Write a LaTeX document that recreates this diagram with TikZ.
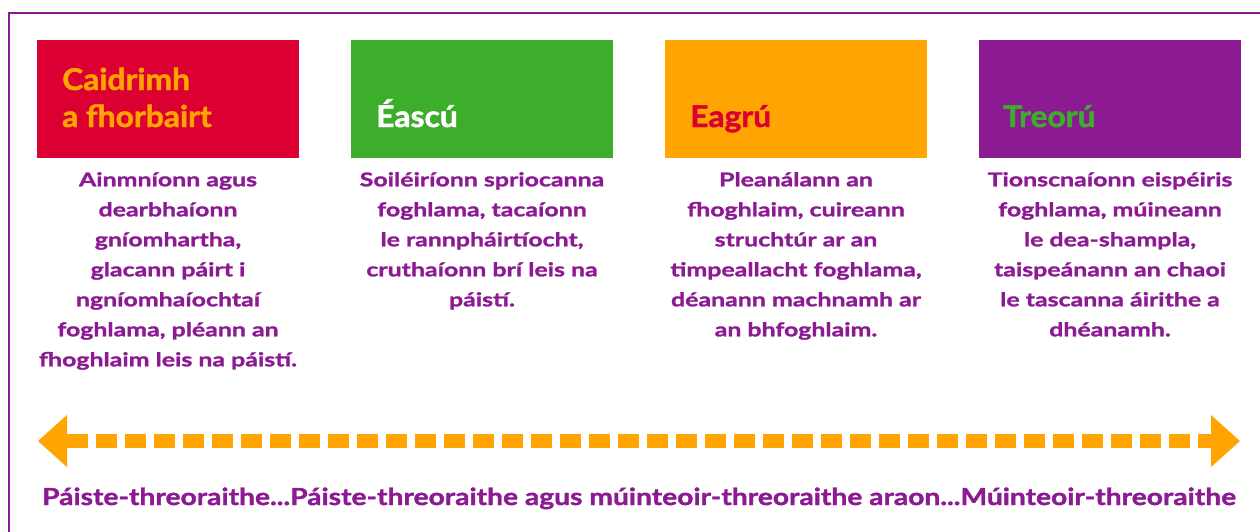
\documentclass[tikz,border=0pt]{standalone}
\usepackage{fontspec}
\setmainfont{Lato}
\newfontfamily\titlefont{Lato}[FakeStretch=1.06, FakeBold=1.5]
\newfontfamily\bodyfont{Lato}[FakeStretch=1.31, FakeBold=1.5]
\newfontfamily\spanfont{Lato}[FakeStretch=1.2, FakeBold=1.5]
\usetikzlibrary{arrows.meta, positioning}
\definecolor{fbred}{HTML}{DC0032}
\definecolor{fbgreen}{HTML}{3DAE2B}
\definecolor{fborange}{HTML}{FFA400}
\definecolor{fbpurple}{HTML}{8B1A93}

\begin{document}
\begin{tikzpicture}[x=1pt, y=-1pt,
	frame/.style={draw=fbpurple, line width=2.5pt},
	stage/.style={minimum width=262pt, minimum height=118pt, inner sep=0pt},
	stagetitle/.style={anchor=base west, inner sep=0pt, align=left, font=\titlefont\fontsize{30}{37}\selectfont\bfseries},
	stagetext/.style={anchor=north, inner sep=0pt, align=center, text=fbpurple, font=\bodyfont\fontsize{19}{30}\selectfont\bfseries},
	span/.style={draw=fborange, line width=14pt, dash pattern=on 21pt off 8pt,
		{Triangle[length=29pt, width=52pt, line width=0pt]}-{Triangle[length=29pt, width=52pt, line width=0pt]}},
	spantext/.style={anchor=base, inner sep=0pt, text=fbpurple, font=\spanfont\fontsize{23.5}{28}\selectfont\bfseries}]
				\useasboundingbox (0,0) rectangle (1260,531);
				\clip (0,0) rectangle (1260,531);
				\draw[frame] (9,13) rectangle (1275,550);

				\node[stage, fill=fbred] (caidrimh) at (168,99) {};
				\node[stagetitle, text=fborange] (caidrimhtitle) at (62,127) {Caidrimh\\a fhorbairt};
				\node[stagetext] (caidrimhtext) at (168,172) {Ainmníonn agus\\dearbhaíonn\\gníomhartha,\\glacann páirt i\\ngníomhaíochtaí\\foghlama, pléann an\\fhoghlaim leis na páistí.};

				\node[stage, fill=fbgreen] (eascu) at (482,99) {};
				\node[stagetitle, text=white] (eascutitle) at (376,127) {Éascú};
				\node[stagetext] (eascutext) at (482,172) {Soiléiríonn spriocanna\\foghlama, tacaíonn\\le rannpháirtíocht,\\cruthaíonn brí leis na\\páistí.};

				\node[stage, fill=fborange] (eagru) at (796,99) {};
				\node[stagetitle, text=fbred] (eagrutitle) at (690,127) {Eagrú};
				\node[stagetext] (eagrutext) at (796,172) {Pleanálann an\\fhoghlaim, cuireann\\struchtúr ar an\\timpeallacht foghlama,\\déanann machnamh ar\\an bhfoghlaim.};

				\node[stage, fill=fbpurple] (treoru) at (1110,99) {};
				\node[stagetitle, text=fbgreen] (treorutitle) at (1003,127) {Treorú};
				\node[stagetext] (treorutext) at (1110,172) {Tionscnaíonn eispéiris\\foghlama, múineann\\le dea-shampla,\\taispeánann an chaoi\\le tascanna áirithe a\\dhéanamh.};

				\coordinate (childled) at (38,441);
				\coordinate (teacherled) at (1240,441);
				\draw[span] (childled) -- (teacherled);
				\node[spantext] (spanlabel) at (639,505) {Páiste-threoraithe...Páiste-threoraithe agus múinteoir-threoraithe araon...Múinteoir-threoraithe};
\end{tikzpicture}
\end{document}
